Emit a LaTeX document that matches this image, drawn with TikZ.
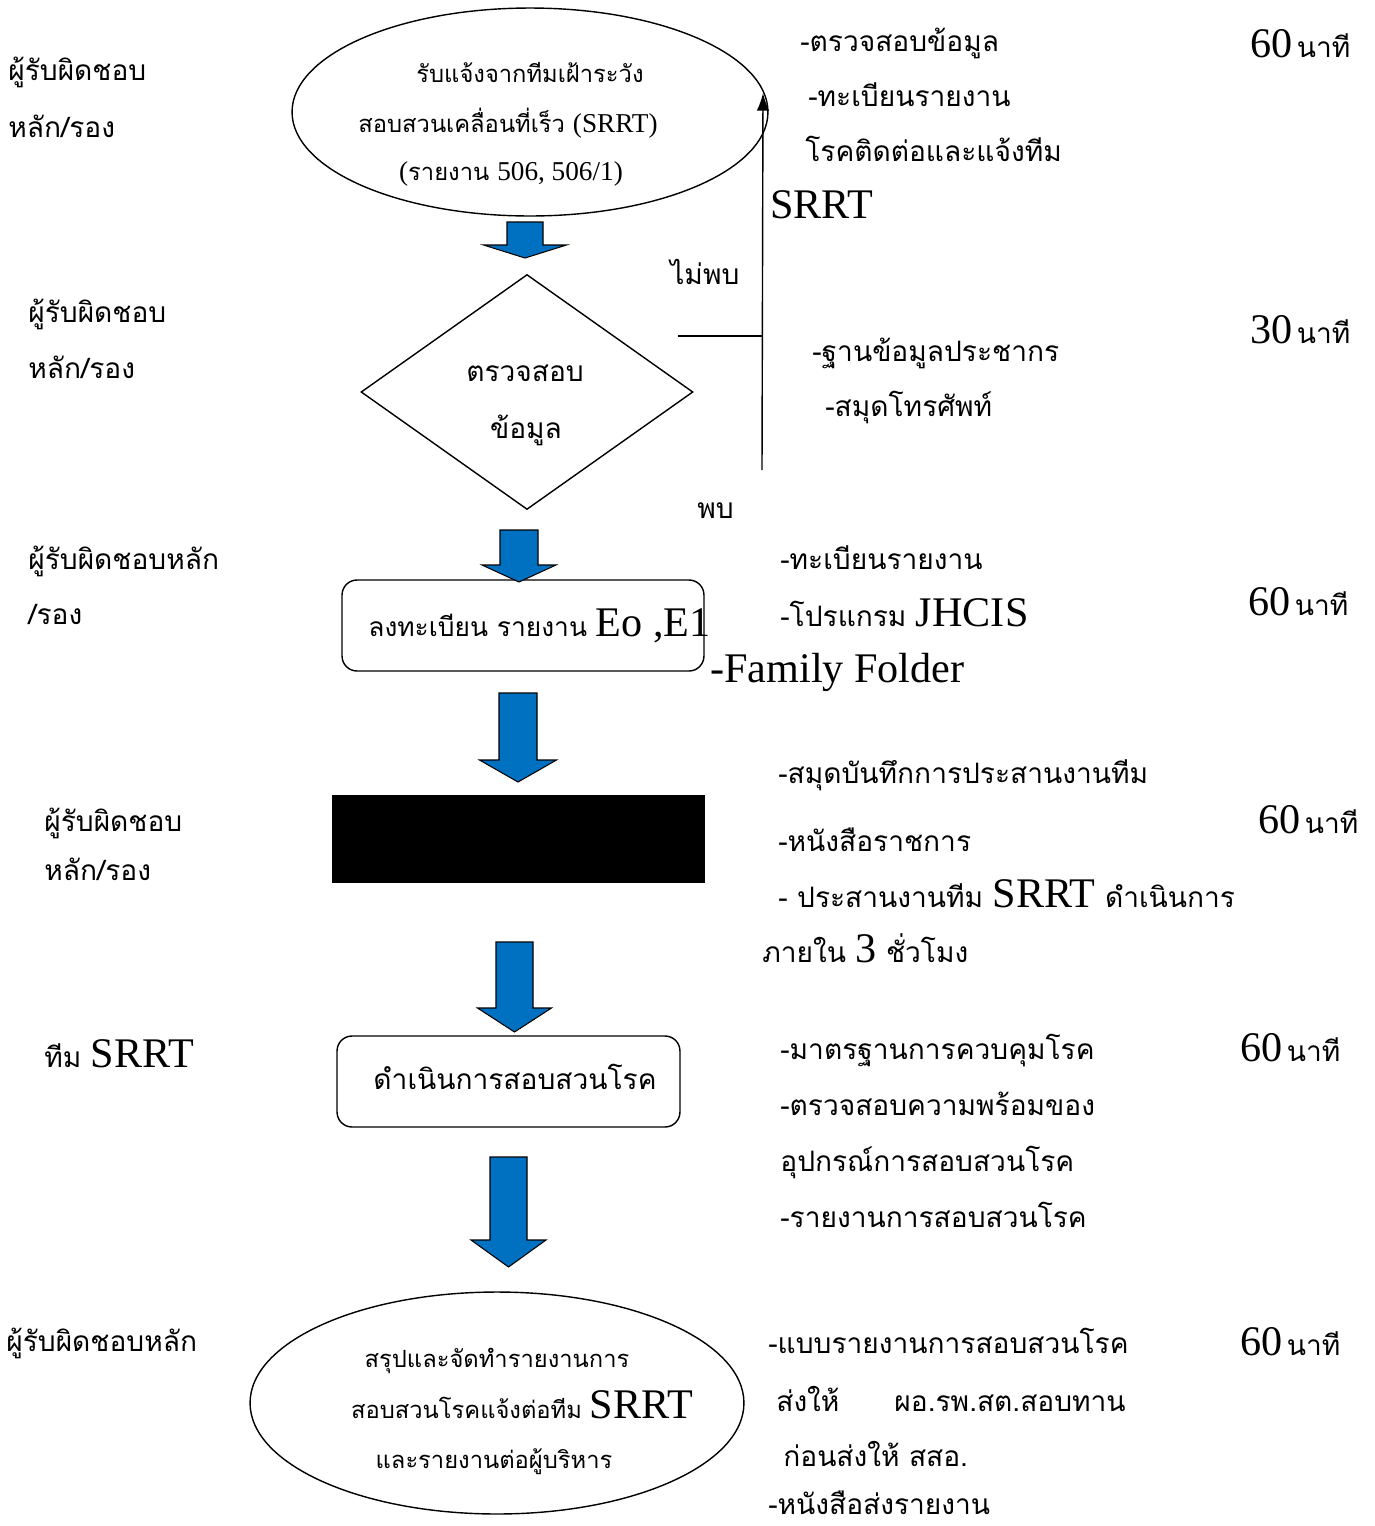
\documentclass[tikz,border=0pt]{standalone}
\usepackage{fontspec}
\setmainfont{Liberation Serif}
\newfontfamily\thaifont[Script=Thai]{Loma}
\usetikzlibrary{shapes.geometric,arrows.meta}
\definecolor{flowblue}{RGB}{0,112,192}
\newcommand\engbig{\rmfamily\fontsize{24}{28}\selectfont}
\newcommand\engsmall{\rmfamily\fontsize{15.5}{18}\selectfont}
\newcommand\thaibody{\thaifont\fontsize{16}{19}\selectfont}
\newcommand\minutes[1]{{\engbig #1} {\thaibody นาที}}
\tikzset{
  thai/.style={inner sep=0pt, font=\thaibody},
  small/.style={inner sep=0pt, font=\thaifont\fontsize{13.5}{16}\selectfont},
  txt/.style={thai, anchor=base west},
  mins/.style={inner sep=0pt, anchor=base west},
  blockarrow/.style={fill=flowblue, draw=black, line width=0.6pt},
  flowbox/.style={draw, rounded corners=0.3cm, line width=0.8pt, inner sep=0pt},
}

\begin{document}
\begin{tikzpicture}[x=0.02cm,y=-0.02cm]
        \useasboundingbox (0,0) rectangle (1375,1526);
        % Shapes
        \node[ellipse, draw, line width=0.8pt, minimum width=9.52cm, minimum height=4.16cm] (report) at (530,112) {};
        \node[diamond, draw, line width=0.8pt, minimum width=6.64cm, minimum height=4.7cm, inner sep=0pt] (check) at (527,392) {};
        \node[flowbox, minimum width=7.24cm, minimum height=1.82cm] (register) at (523,625.5) {};
        \node[fill=black, inner sep=0pt, minimum width=7.46cm, minimum height=1.76cm] (hidden) at (518.5,839) {};
        \node[flowbox, minimum width=6.86cm, minimum height=1.82cm] (investigate) at (508.5,1081.5) {};
        \node[ellipse, draw, line width=0.8pt, minimum width=9.88cm, minimum height=4.44cm] (summary) at (497,1403) {};
        % Block arrows
        \foreach \cx/\ya/\yb/\yc/\sw/\hw in {525/222/245/258/18/41.5, 519/530/565/582/19/37, 518/693/760/782/19/38.5, 514.5/942/1008/1032/18.5/37, 508.5/1157/1240/1267/18.5/37.5} {
          \draw[blockarrow] (\cx-\sw,\ya) -- (\cx+\sw,\ya) -- (\cx+\sw,\yb) -- (\cx+\hw,\yb) -- (\cx,\yc) -- (\cx-\hw,\yb) -- (\cx-\sw,\yb) -- cycle;
        }
        % Loop back
        \coordinate (found) at (762,470);
        \coordinate (notfound) at (678,336);
        \draw[line width=0.8pt, -{Latex[length=10pt,width=7pt]}] (found) -- (763,93);
        \draw[line width=0.8pt] (notfound) -- (notfound -| found);
        \node[txt] (nolabel) at (670,284) {ไม่พบ};
        \node[txt] (yeslabel) at (697,518) {พบ};
        % Texts in shapes
        \node[small, anchor=base] (report1) at (530,82) {รับแจ้งจากทีมเฝ้าระวัง};
        \node[small, anchor=base] (report2) at (508,132) {สอบสวนเคลื่อนที่เร็ว {\engsmall (SRRT)}};
        \node[small, anchor=base] (report3) at (511,180) {{\engsmall (}รายงาน {\engsmall 506, 506/1)}};
        \node[thai, anchor=base] (check1) at (525,381) {ตรวจสอบ};
        \node[thai, anchor=base] (check2) at (526,438) {ข้อมูล};
        \node[txt, font=\thaifont\fontsize{15}{18}\selectfont] (register1) at (368,636) {ลงทะเบียน รายงาน {\engbig Eo ,E1}};
        \node[thai, anchor=base] (investigate1) at (515,1089) {ดำเนินการสอบสวนโรค};
        \node[small, anchor=base] (summary1) at (497,1367) {สรุปและจัดทำรายงานการ};
        \node[small, anchor=base] (summary2) at (522,1418) {สอบสวนโรคแจ้งต่อทีม {\engbig SRRT}};
        \node[small, anchor=base] (summary3) at (494,1468) {และรายงานต่อผู้บริหาร};
        % Responsible
        \node[txt] (who1a) at (8,80) {ผู้รับผิดชอบ};
        \node[txt] (who1b) at (8,137) {หลัก/รอง};
        \node[txt] (who2a) at (28,322) {ผู้รับผิดชอบ};
        \node[txt] (who2b) at (28,378) {หลัก/รอง};
        \node[txt] (who3a) at (28,569) {ผู้รับผิดชอบหลัก};
        \node[txt] (who3b) at (28,624) {/รอง};
        \node[txt] (who4a) at (44,831) {ผู้รับผิดชอบ};
        \node[txt] (who4b) at (44,880) {หลัก/รอง};
        \node[txt] (who5) at (44,1067) {ทีม {\engbig SRRT}};
        \node[txt] (who6) at (6,1351) {ผู้รับผิดชอบหลัก};
        % Tools
        \node[txt] (tool1a) at (800,51) {-ตรวจสอบข้อมูล};
        \node[txt] (tool1b) at (808,106) {-ทะเบียนรายงาน};
        \node[txt] (tool1c) at (805,161) {โรคติดต่อและแจ้งทีม};
        \node[mins] (tool1d) at (770,218) {\engbig SRRT};
        \node[txt] (tool2a) at (812,361) {-ฐานข้อมูลประชากร};
        \node[txt] (tool2b) at (825,416) {-สมุดโทรศัพท์};
        \node[txt] (tool3a) at (780,569) {-ทะเบียนรายงาน};
        \node[txt] (tool3b) at (780,626) {-โปรแกรม {\engbig JHCIS}};
        \node[mins] (tool3c) at (710,682) {\engbig -Family Folder};
        \node[txt] (tool4a) at (778,783) {-สมุดบันทึกการประสานงานทีม};
        \node[txt] (tool4b) at (778,851) {-หนังสือราชการ};
        \node[txt] (tool4c) at (778,907) {- ประสานงานทีม {\engbig SRRT} ดำเนินการ};
        \node[txt] (tool4d) at (762,962) {ภายใน {\engbig 3} ชั่วโมง};
        \node[txt] (tool5a) at (780,1059) {-มาตรฐานการควบคุมโรค};
        \node[txt] (tool5b) at (780,1115) {-ตรวจสอบความพร้อมของ};
        \node[txt] (tool5c) at (780,1171) {อุปกรณ์การสอบสวนโรค};
        \node[txt] (tool5d) at (780,1227) {-รายงานการสอบสวนโรค};
        \node[txt] (tool6a) at (768,1353) {-แบบรายงานการสอบสวนโรค};
        \node[txt] (tool6b) at (776,1411) {ส่งให้\hspace{1.1cm}ผอ.รพ.สต.สอบทาน};
        \node[txt] (tool6c) at (783,1466) {ก่อนส่งให้ สสอ.};
        \node[txt] (tool6d) at (768,1514) {-หนังสือส่งรายงาน};
        % Times
        \node[mins] (time1) at (1250,57) {\minutes{60}};
        \node[mins] (time2) at (1250,343) {\minutes{30}};
        \node[mins] (time3) at (1248,615) {\minutes{60}};
        \node[mins] (time4) at (1258,833) {\minutes{60}};
        \node[mins] (time5) at (1240,1061) {\minutes{60}};
        \node[mins] (time6) at (1240,1355) {\minutes{60}};
\end{tikzpicture}
\end{document}
